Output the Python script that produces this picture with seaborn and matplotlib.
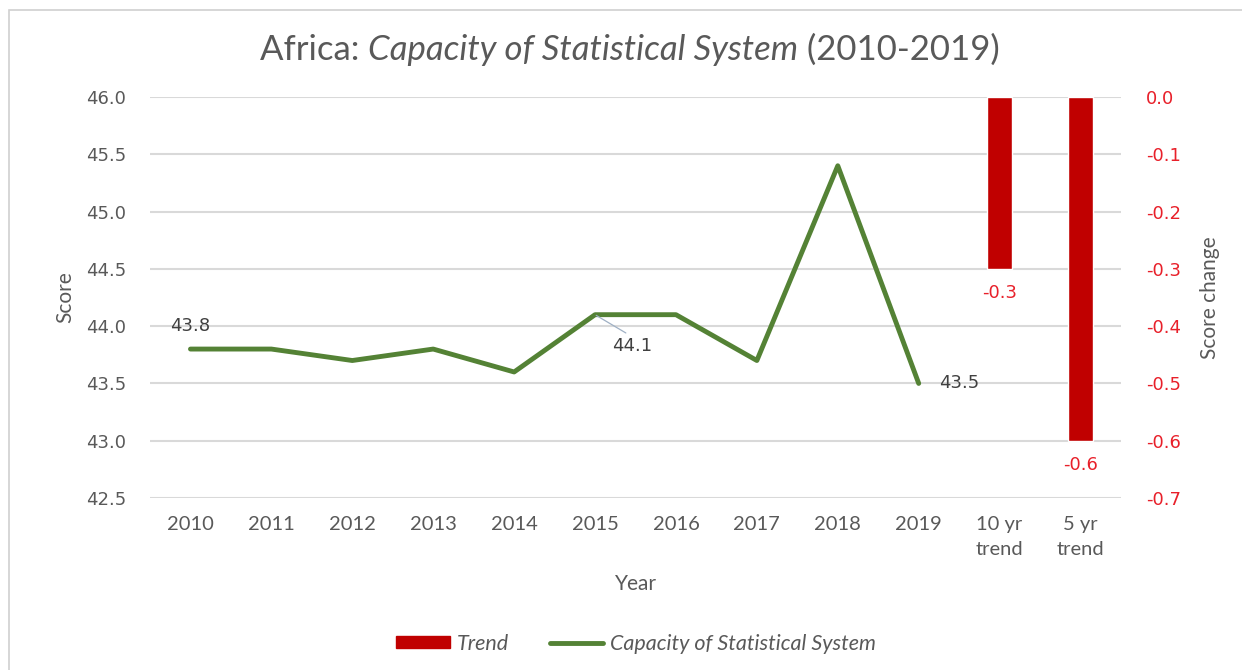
import matplotlib
matplotlib.use("Agg")
import matplotlib.pyplot as plt
from matplotlib.patches import Patch, Rectangle
from matplotlib.lines import Line2D
from matplotlib.ticker import FormatStrFormatter
import seaborn as sns
import pandas as pd

# Data
years = ["2010", "2011", "2012", "2013", "2014", "2015", "2016", "2017", "2018", "2019"]
scores = [43.8, 43.8, 43.7, 43.8, 43.6, 44.1, 44.1, 43.7, 45.4, 43.5]
trend_labels = ["10 yr\ntrend", "5 yr\ntrend"]
trend_values = [-0.3, -0.6]
left_ticks = [42.5, 43.0, 43.5, 44.0, 44.5, 45.0, 45.5, 46.0]
right_ticks = [0.0, -0.1, -0.2, -0.3, -0.4, -0.5, -0.6, -0.7]

GREEN = "#548235"
RED = "#C00000"
RED_TEXT = "#E8202A"
GRAY = "#595959"
GRID = "#D9D9D9"

sns.set_theme(style="white")
plt.rcParams["font.family"] = ["DejaVu Sans"]
plt.rcParams["axes.unicode_minus"] = False

fig = plt.figure(figsize=(12.42, 6.70), dpi=100)
ax = fig.add_axes([150 / 1242, 1 - 498 / 670, (1121 - 150) / 1242, (498 - 97) / 670])
ax2 = ax.twinx()

# Chart frame
fig.patches.append(Rectangle((9 / 1242, -0.1), 1.2, (1 - 10 / 670) + 0.1,
                             transform=fig.transFigure, fill=False,
                             edgecolor="#D0D0D0", linewidth=1.2, zorder=0))

n_all = len(years) + len(trend_labels)
line_df = pd.DataFrame({"pos": list(range(len(years))), "score": scores})
bar_df = pd.DataFrame({"pos": [len(years) + i for i in range(len(trend_labels))],
                       "change": trend_values})

sns.lineplot(data=line_df, x="pos", y="score", ax=ax, color=GREEN,
             linewidth=3.5, zorder=3)
sns.barplot(data=bar_df, x="pos", y="change", ax=ax2, color=RED,
            native_scale=True, width=0.31, saturation=1, zorder=3)

for a in (ax, ax2):
    for s in a.spines.values():
        s.set_visible(False)
    a.set_xlim(-0.5, n_all - 0.5)
    a.tick_params(length=0)

ax.set_ylim(42.5, 46.0)
ax.set_yticks(left_ticks)
ax.yaxis.set_major_formatter(FormatStrFormatter("%.1f"))
ax.grid(axis="y", color=GRID, linewidth=1.5)
ax.grid(axis="x", visible=False)
ax.set_axisbelow(True)
ax.tick_params(axis="y", labelsize=13, labelcolor=GRAY, pad=17)

ax2.set_ylim(-0.7, 0.0)
ax2.set_yticks(right_ticks)
ax2.yaxis.set_major_formatter(FormatStrFormatter("%.1f"))
ax2.grid(False)
ax2.tick_params(axis="y", labelsize=13, labelcolor=RED_TEXT, pad=18)

ax.set_xticks(range(n_all))
ax.set_xticklabels(years + trend_labels, fontfamily="Lato", fontsize=14.5,
                   color=GRAY, linespacing=1.55)
ax.tick_params(axis="x", pad=13)

ax.set_xlabel("Year", fontfamily="Lato", fontsize=15, color=GRAY, labelpad=12)
ax.set_ylabel("Score", fontfamily="Lato", fontsize=15, color=GRAY, labelpad=8)
ax2.set_ylabel("Score change", fontfamily="Lato", fontsize=15, color=GRAY, labelpad=14)

# Data labels on the line
lab_style = dict(fontsize=13, color="#404040", textcoords="offset points")
ax.annotate(f"{scores[0]:.1f}", (0, scores[0]), xytext=(0, 16.5),
            ha="center", va="center", **lab_style)
ax.annotate(f"{scores[5]:.1f}", (5, scores[5]), xytext=(27, -22.5),
            ha="center", va="center",
            arrowprops=dict(arrowstyle="-", color="#9FB0C4", lw=0.9,
                            relpos=(0.5, 1.0), shrinkA=1, shrinkB=1),
            **lab_style)
ax.annotate(f"{scores[9]:.1f}", (9, scores[9]), xytext=(29.5, 0),
            ha="center", va="center", **lab_style)

# Labels under the trend bars
for p, v in zip(bar_df["pos"], bar_df["change"]):
    ax2.annotate(f"{v:.1f}", (p, v), xytext=(0, -17.5), textcoords="offset points",
                 ha="center", va="center", fontsize=13, color=RED_TEXT)

# Title with italic middle part
parts = [("Africa: ", "normal"), ("Capacity of Statistical System", "italic"),
         (" (2010-2019)", "normal")]
texts = []
for s, st in parts:
    texts.append(fig.text(0, 1 - 50 / 670, s, fontfamily="Lato", fontsize=25,
                          style=st, color=GRAY, va="center", ha="left"))
fig.canvas.draw()
r = fig.canvas.get_renderer()
widths = [t.get_window_extent(r).width for t in texts]
x0 = 630 - sum(widths) / 2
for t, w in zip(texts, widths):
    t.set_x(x0 / 1242)
    x0 += w

# Legend
handles = [Patch(facecolor=RED, edgecolor=RED),
           Line2D([0], [0], color=GREEN, linewidth=3.5)]
leg = fig.legend(handles, ["Trend", "Capacity of Statistical System"],
                 loc="center", bbox_to_anchor=(636 / 1242, 1 - 644 / 670),
                 ncol=2, frameon=False, handlelength=2.5, handleheight=0.5,
                 handletextpad=0.3, columnspacing=1.9,
                 prop={"family": "Lato", "style": "italic", "size": 15.5})
for t in leg.get_texts():
    t.set_color(GRAY)

fig.savefig("out.png", dpi=100)
